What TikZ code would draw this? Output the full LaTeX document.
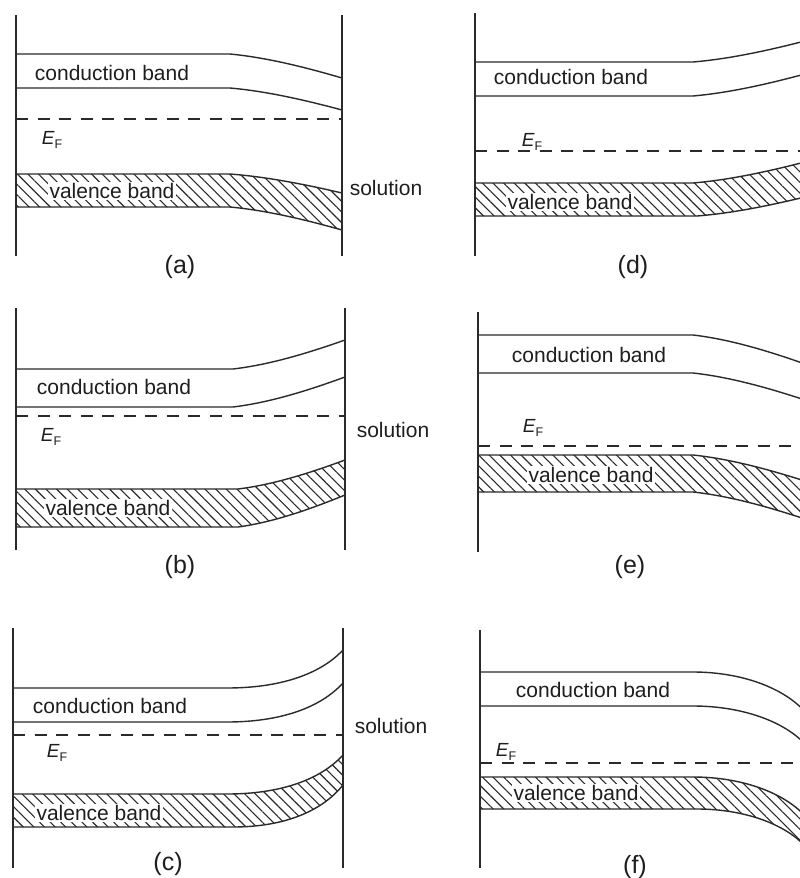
\documentclass[tikz,border=0pt]{standalone}
\usepackage{fontspec}
\setmainfont{Liberation Sans}
\usetikzlibrary{patterns.meta}

\definecolor{ink}{HTML}{2A2A2A}
\definecolor{textink}{HTML}{1E1E1E}

% shape of the bent part of a band edge (fractions of the bend's width / drop)
\newcommand\setbend[4]{\def\bfa{#1}\def\bfb{#2}\def\bfc{#3}\def\bfd{#4}}

% one band edge: flat from #1 to the knee #2 at height #3, then bent to (#4,#5)
\newcommand\bandedge[5]{%
  \draw[bandline] (#1,#3) -- (#2,#3)
    .. controls ({#2+\bfa*(#4-#2)},{#3+\bfb*(#5-#3)})
           and ({#2+\bfc*(#4-#2)},{#3+\bfd*(#5-#3)}) .. (#4,#5);}

% hatched valence band between a top edge and a bottom edge
\newcommand\hatchband[8]{%
  \fill[hatch]
    (#1,#3) -- (#2,#3)
      .. controls ({#2+\bfa*(#4-#2)},{#3+\bfb*(#5-#3)})
             and ({#2+\bfc*(#4-#2)},{#3+\bfd*(#5-#3)}) .. (#4,#5)
      -- (#4,#8)
      .. controls ({#6+\bfc*(#4-#6)},{#7+\bfd*(#8-#7)})
             and ({#6+\bfa*(#4-#6)},{#7+\bfb*(#8-#7)}) .. (#6,#7)
      -- (#1,#7) -- cycle;
  \bandedge{#1}{#2}{#3}{#4}{#5}
  \bandedge{#1}{#6}{#7}{#4}{#8}}

\newcommand\EF{{\fontsize{19}{21}\selectfont\itshape E}\raisebox{-0.4ex}{\fontsize{12.5}{13}\selectfont F}}

\tikzset{
  wall/.style={ink, line width=1.5pt},
  bandline/.style={ink, line width=1.4pt},
  fermi/.style={ink, line width=1.2pt, dash pattern=on 12pt off 9.5pt},
  hatch/.style={pattern={Lines[angle=-45,distance=7.5pt,line width=1.1pt]}, pattern color=ink},
  lbl/.style={font=\fontsize{21}{25}\selectfont, text=textink, inner sep=0pt},
  vblbl/.style={lbl, fill=white, inner sep=1.5pt},
  caption/.style={font=\fontsize{25}{29}\selectfont, text=textink, inner sep=0pt},
}

\begin{document}
\begin{tikzpicture}[x=1pt, y=-1pt]
\useasboundingbox (0,0) rectangle (800,878);
\clip (0,0) rectangle (800,878);
\fill[white] (0,0) rectangle (800,878);

% ---------- (a) ----------
\setbend{0.33}{0.15}{0.67}{0.55}
\bandedge{16}{230}{54}{342}{78}
\bandedge{16}{230}{88}{342}{110}
\hatchband{16}{230}{174}{342}{193}{230}{207}{230}
\draw[fermi] (16,119) -- (342,119);
\draw[wall] (16,15) -- (16,256);
\draw[wall] (342,15) -- (342,256);
\node[lbl] (cbA) at (112,73) {conduction band};
\node[vblbl] (vbA) at (112,191) {valence band};
\node[lbl] (efA) at (52,140) {\EF};
\node[lbl] (solA) at (386,188) {solution};
\node[caption] (capA) at (180,267) {(a)};

% ---------- (b) ----------
\bandedge{16}{233}{369}{345}{340}
\bandedge{16}{233}{407}{345}{377}
\hatchband{16}{238}{489}{345}{460}{238}{527}{495}
\draw[fermi] (16,416) -- (346,416);
\draw[wall] (16,308) -- (16,550);
\draw[wall] (345,308) -- (345,550);
\node[lbl] (cbB) at (114,387) {conduction band};
\node[vblbl] (vbB) at (108,508) {valence band};
\node[lbl] (efB) at (51,437) {\EF};
\node[lbl] (solB) at (393,430) {solution};
\node[caption] (capB) at (180,567) {(b)};

% ---------- (c) ----------
\setbend{0.45}{0}{0.8}{0.35}
\bandedge{13}{227}{688}{343}{650}
\bandedge{13}{227}{722}{343}{683}
\hatchband{13}{227}{794}{343}{755}{233}{827}{785}
\draw[fermi] (13,735) -- (343,735);
\draw[wall] (13,628) -- (13,868);
\draw[wall] (343,628) -- (343,868);
\node[lbl] (cbC) at (110,706) {conduction band};
\node[vblbl] (vbC) at (99,813) {valence band};
\node[lbl] (efC) at (57,753) {\EF};
\node[lbl] (solC) at (391,726) {solution};
\node[caption] (capC) at (168,864) {(c)};

% ---------- (d) ----------
\setbend{0.33}{0.15}{0.67}{0.55}
\bandedge{475}{693}{62}{805}{41}
\bandedge{475}{693}{96}{805}{74}
\hatchband{475}{693}{183}{805}{162}{697}{216}{197}
\draw[fermi] (475,151) -- (805,151);
\draw[wall] (475,13) -- (475,256);
\node[lbl] (cbD) at (571,77) {conduction band};
\node[vblbl] (vbD) at (570,202) {valence band};
\node[lbl] (efD) at (532,142) {\EF};
\node[caption] (capD) at (633,267) {(d)};

% ---------- (e) ----------
\bandedge{478}{693}{335}{805}{364}
\bandedge{478}{693}{373}{805}{400}
\hatchband{478}{693}{455}{805}{481}{693}{492}{519}
\draw[fermi] (478,446) -- (805,446);
\draw[wall] (478,312) -- (478,552);
\node[lbl] (cbE) at (589,355) {conduction band};
\node[vblbl] (vbE) at (591,475) {valence band};
\node[lbl] (efE) at (533,428) {\EF};
\node[caption] (capE) at (630,567) {(e)};

% ---------- (f) ----------
\setbend{0.44}{0}{0.83}{0.39}
\bandedge{480}{693}{672}{810}{718}
\bandedge{480}{693}{706}{810}{750}
\hatchband{480}{693}{777}{810}{822}{697}{809}{852}
\draw[fermi] (480,763) -- (810,763);
\draw[wall] (480,630) -- (480,868);
\node[lbl] (cbF) at (593,690) {conduction band};
\node[vblbl] (vbF) at (576,793) {valence band};
\node[lbl] (efF) at (506,752) {\EF};
\node[caption] (capF) at (635,867) {(f)};
\end{tikzpicture}
\end{document}
